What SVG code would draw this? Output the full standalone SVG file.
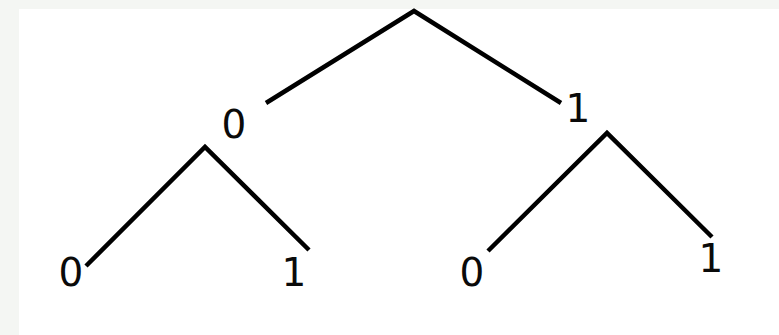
<svg xmlns="http://www.w3.org/2000/svg" width="779" height="335" viewBox="0 0 779 335">
  <style>
    .edge { fill: none; stroke: #000; stroke-width: 4.5; stroke-linejoin: miter; stroke-linecap: butt; }
    .lbl { font-family: "DejaVu Sans", "Liberation Sans", sans-serif; font-size: 39px; fill: #0a0a0a; text-anchor: middle; }
  </style>
  <rect x="0" y="0" width="779" height="335" fill="#f4f6f3"/>
  <rect x="19" y="9" width="760" height="326" fill="#ffffff"/>
  <g id="connectors">
    <polyline class="edge" points="266,103 414,11 561,103"/>
    <polyline class="edge" points="86,266 205,147 309,250"/>
    <polyline class="edge" points="488,251 607,133 712,237"/>
  </g>
  <g id="node-mid-0"><text class="lbl" x="234" y="138">0</text></g>
  <g id="node-mid-1"><text class="lbl" x="578" y="122">1</text></g>
  <g id="node-ll-0"><text class="lbl" x="71" y="286">0</text></g>
  <g id="node-lr-1"><text class="lbl" x="294" y="286">1</text></g>
  <g id="node-rl-0"><text class="lbl" x="472" y="286">0</text></g>
  <g id="node-rr-1"><text class="lbl" x="711" y="272">1</text></g>
</svg>
